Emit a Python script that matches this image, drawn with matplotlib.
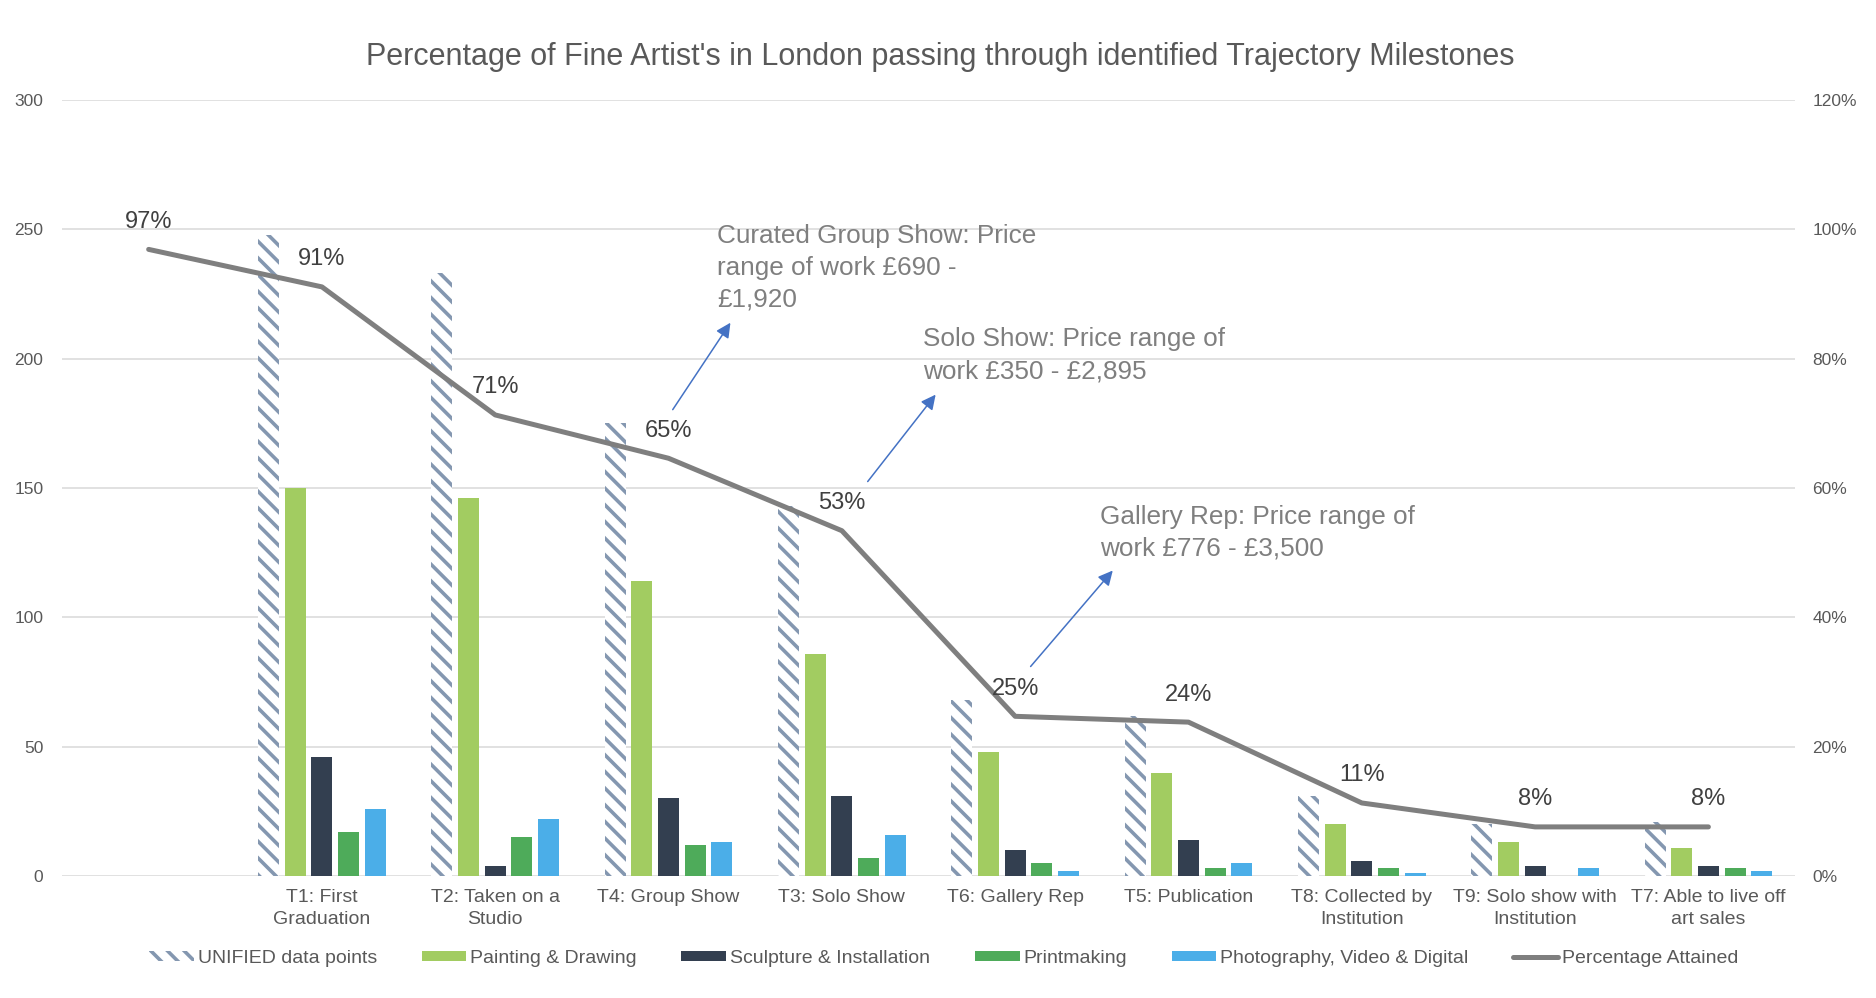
#!/usr/bin/env python3
"""Trajectory milestones chart: grouped bars plus percentage line."""

import numpy as np
import matplotlib
matplotlib.use("Agg")
import matplotlib.pyplot as plt
from matplotlib.ticker import FuncFormatter

plt.rcParams["font.family"] = ["Liberation Sans", "DejaVu Sans"]
plt.rcParams["hatch.linewidth"] = 2.6

# ---- data ----
categories = ["", "T1: First\nGraduation", "T2: Taken on a\nStudio", "T4: Group Show",
              "T3: Solo Show", "T6: Gallery Rep", "T5: Publication",
              "T8: Collected by\nInstitution", "T9: Solo show with\nInstitution",
              "T7: Able to live off\nart sales"]
unified = [np.nan, 248, 233, 175, 143, 68, 62, 31, 20, 21]
painting = [np.nan, 150, 146, 114, 86, 48, 40, 20, 13, 11]
sculpture = [np.nan, 46, 4, 30, 31, 10, 14, 6, 4, 4]
printmaking = [np.nan, 17, 15, 12, 7, 5, 3, 3, 0, 3]
photo = [np.nan, 26, 22, 13, 16, 2, 5, 1, 3, 2]
pct_attained = [0.969, 0.911, 0.713, 0.646, 0.534, 0.247, 0.238, 0.113, 0.076, 0.076]

notes = ["Curated Group Show: Price\nrange of work £690 -\n£1,920",
         "Solo Show: Price range of\nwork £350 - £2,895",
         "Gallery Rep: Price range of\nwork £776 - £3,500"]

TEXT = "#595959"

fig = plt.figure(figsize=(18.76, 9.98), dpi=100)
ax = fig.add_axes([0.03305, 0.1222, 0.9238, 0.7776])
ax2 = ax.twinx()

x = np.arange(len(categories))
pitch, width = 0.154, 0.121
series = [
    ("UNIFIED data points", unified, dict(facecolor="white", edgecolor="#8497B0", hatch="\\\\", linewidth=0)),
    ("Painting & Drawing", painting, dict(color="#A2CC61")),
    ("Sculpture & Installation", sculpture, dict(color="#333F50")),
    ("Printmaking", printmaking, dict(color="#4EAB5A")),
    ("Photography, Video & Digital", photo, dict(color="#4BAEE8")),
]
handles = []
for k, (name, vals, style) in enumerate(series):
    b = ax.bar(x + (k - 2) * pitch, vals, width, label=name, zorder=2, **style)
    handles.append(b)

ax.set_xlim(-0.5, len(categories) - 0.5)
ax.set_ylim(0, 300)
ax.set_yticks(np.arange(0, 301, 50))
ax.set_xticks(x)
ax.set_xticklabels(categories, fontsize=14, color=TEXT, linespacing=1.35)
ax.yaxis.grid(True, color="#D9D9D9", lw=1.1)
ax.set_axisbelow(True)
ax.tick_params(axis="y", length=0, labelsize=12.5, labelcolor=TEXT, pad=13.5)
ax.tick_params(axis="x", length=0, pad=9.5)

ax2.set_ylim(0, 1.2)
ax2.set_yticks(np.arange(0, 1.21, 0.2))
ax2.yaxis.set_major_formatter(FuncFormatter(lambda v, _: f"{v * 100:.0f}%"))
ax2.tick_params(axis="y", length=0, labelsize=12.5, labelcolor=TEXT, pad=12.5)

for a in (ax, ax2):
    for s in a.spines.values():
        s.set_visible(False)

line, = ax2.plot(x, pct_attained, color="#7F7F7F", lw=3.6, solid_capstyle="round",
                 solid_joinstyle="round", label="Percentage Attained", zorder=3)
handles.append(line)
for xi, v in zip(x, pct_attained):
    ax2.annotate(f"{v * 100:.0f}%", (xi, v), xytext=(0, 21.5), textcoords="offset pixels",
                 ha="center", va="baseline", fontsize=17, color="#404040")

# callouts: text top-left, arrow tail, arrow tip (category units, left-axis units)
callouts = [((3.281, 252.2), (3.024, 180.3), (3.357, 213.9)),
            ((4.468, 212.1), (4.149, 152.5), (4.541, 186.1)),
            ((5.490, 143.5), (5.089, 81.0), (5.563, 118.1))]
for txt, (pos, tail, tip) in zip(notes, callouts):
    ax2.annotate("", xy=tip, xytext=tail, xycoords=ax.transData, textcoords=ax.transData,
                 arrowprops=dict(arrowstyle="-|>", color="#4472C4", lw=1.1,
                                 mutation_scale=22, shrinkA=0, shrinkB=0))
    ax2.text(pos[0], pos[1], txt, transform=ax.transData, fontsize=18.8, color="#7F7F7F",
             ha="left", va="top", linespacing=1.42)

fig.text(0.501, 0.943, "Percentage of Fine Artist's in London passing through identified "
         "Trajectory Milestones", ha="center", va="center", fontsize=22, color=TEXT)

fig.legend(handles=handles, loc="center", bbox_to_anchor=(0.503, 0.0394), ncol=6,
           frameon=False, fontsize=14, labelcolor=TEXT, handlelength=2.3,
           handleheight=0.43, handletextpad=0.2, columnspacing=2.3)

fig.savefig("out.png", dpi=100)
plt.close(fig)
